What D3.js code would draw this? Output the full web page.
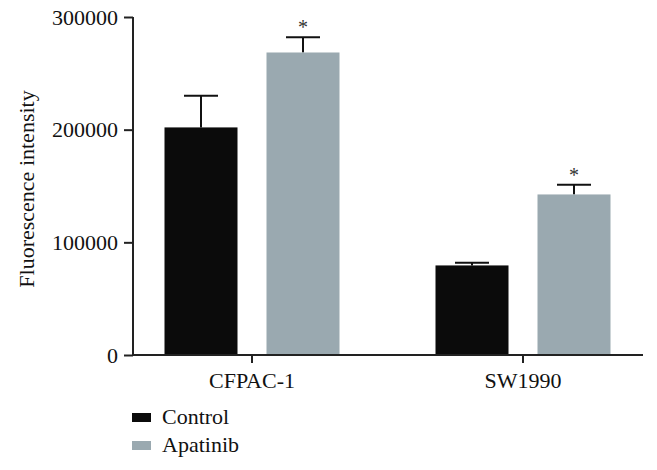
<!DOCTYPE html>
<html>
<head>
<meta charset="utf-8">
<script src="https://cdn.jsdelivr.net/npm/d3@7"></script>
<style>
  body { margin: 0; background: #fff; }
</style>
</head>
<body>
<svg></svg>
<script>
var w = 657, h = 470;

// data
var categories = ["CFPAC-1", "SW1990"];
var groups = ["Control", "Apatinib"];
var controlMean = [202000, 79500];
var controlErr = [28000, 2300];
var apatinibMean = [268500, 142500];
var apatinibErr = [13500, 8700];
var yTicks = [0, 100000, 200000, 300000];
var colors = ["#0b0b0b", "#9aa9b0"];

var font = "'Liberation Serif', 'Times New Roman', serif";
var fs = "22px";

var svg = d3.select("svg").attr("width", w).attr("height", h);

var mLeft = 133, mRight = 643, mTop = 17, mBottom = 355;

// group centres land at 252 and 523
var x = d3.scaleBand().domain(categories).range([116.5, 658.5]);
var y = d3.scaleLinear().domain([0, 300000]).range([mBottom, mTop]);

var barW = 73, gap = 29;

svg.append("line")
    .attr("x1", mLeft).attr("x2", mRight)
    .attr("y1", mBottom).attr("y2", mBottom)
    .attr("stroke", "#222").attr("stroke-width", 2);

var yAxis = svg.append("g")
    .attr("transform", "translate(" + mLeft + ",0)")
    .call(d3.axisLeft(y).tickValues(yTicks).tickFormat(d3.format("d")).tickSize(9).tickPadding(6));
yAxis.attr("font-family", null).attr("font-size", null);
yAxis.select(".domain").attr("stroke", "#222").attr("stroke-width", 2).attr("d", "M0," + (mBottom + 1) + "V" + mTop);
yAxis.selectAll(".tick line").attr("stroke", "#222").attr("stroke-width", 2);
yAxis.selectAll(".tick text").attr("fill", "#111")
    .style("font-size", fs).style("font-family", font);

function cx(c) { return x(c) + x.bandwidth() / 2; }

// category ticks and labels
var cat = svg.append("g").selectAll("g").data(categories).enter().append("g");
cat.append("line")
    .attr("x1", d => cx(d)).attr("x2", d => cx(d))
    .attr("y1", mBottom).attr("y2", mBottom + 8)
    .attr("stroke", "#222").attr("stroke-width", 2);
cat.append("text")
    .attr("x", d => cx(d)).attr("y", mBottom + 33)
    .attr("text-anchor", "middle")
    .attr("fill", "#111")
    .style("font-size", fs).style("font-family", font)
    .text(d => d);

var series = [
    { name: groups[0], mean: controlMean, err: controlErr, color: colors[0], off: -(gap / 2 + barW) },
    { name: groups[1], mean: apatinibMean, err: apatinibErr, color: colors[1], off: gap / 2 }
];

series.forEach(function (s, si) {
    var g = svg.append("g");
    g.selectAll(".err").data(categories).enter().append("line")
        .attr("x1", d => cx(d) + s.off + barW / 2).attr("x2", d => cx(d) + s.off + barW / 2)
        .attr("y1", (d, i) => y(s.mean[i])).attr("y2", (d, i) => y(s.mean[i] + s.err[i]))
        .attr("stroke", "#111").attr("stroke-width", 2);
    g.selectAll(".cap").data(categories).enter().append("line")
        .attr("x1", d => cx(d) + s.off + barW / 2 - 17).attr("x2", d => cx(d) + s.off + barW / 2 + 17)
        .attr("y1", (d, i) => y(s.mean[i] + s.err[i])).attr("y2", (d, i) => y(s.mean[i] + s.err[i]))
        .attr("stroke", "#111").attr("stroke-width", 2);
    g.selectAll("rect").data(categories).enter().append("rect")
        .attr("x", d => cx(d) + s.off)
        .attr("y", (d, i) => y(s.mean[i]))
        .attr("width", barW)
        .attr("height", (d, i) => mBottom - y(s.mean[i]) - 1)
        .attr("fill", s.color);
    if (si === 1) {
        g.selectAll(".star").data(categories).enter().append("text")
            .attr("x", d => cx(d) + s.off + barW / 2)
            .attr("y", (d, i) => y(s.mean[i] + s.err[i]) - 3)
            .attr("text-anchor", "middle")
            .attr("fill", "#333")
            .style("font-size", "20px").style("font-family", font)
            .text("*");
    }
});

// y axis title
svg.append("text")
    .attr("transform", "translate(34," + ((mTop + mBottom) / 2 + 3) + ") rotate(-90)")
    .attr("text-anchor", "middle")
    .attr("fill", "#111")
    .style("font-size", fs).style("font-family", font)
    .text("Fluorescence intensity");

// legend
var legend = svg.append("g").selectAll("g").data(groups).enter().append("g")
    .attr("transform", (d, i) => "translate(132," + (413 + i * 28) + ")");
legend.append("rect").attr("width", 19).attr("height", 9).attr("fill", (d, i) => colors[i]);
legend.append("text").attr("x", 30).attr("y", 11)
    .attr("fill", "#111")
    .style("font-size", fs).style("font-family", font)
    .text(d => d);
</script>
</body>
</html>
